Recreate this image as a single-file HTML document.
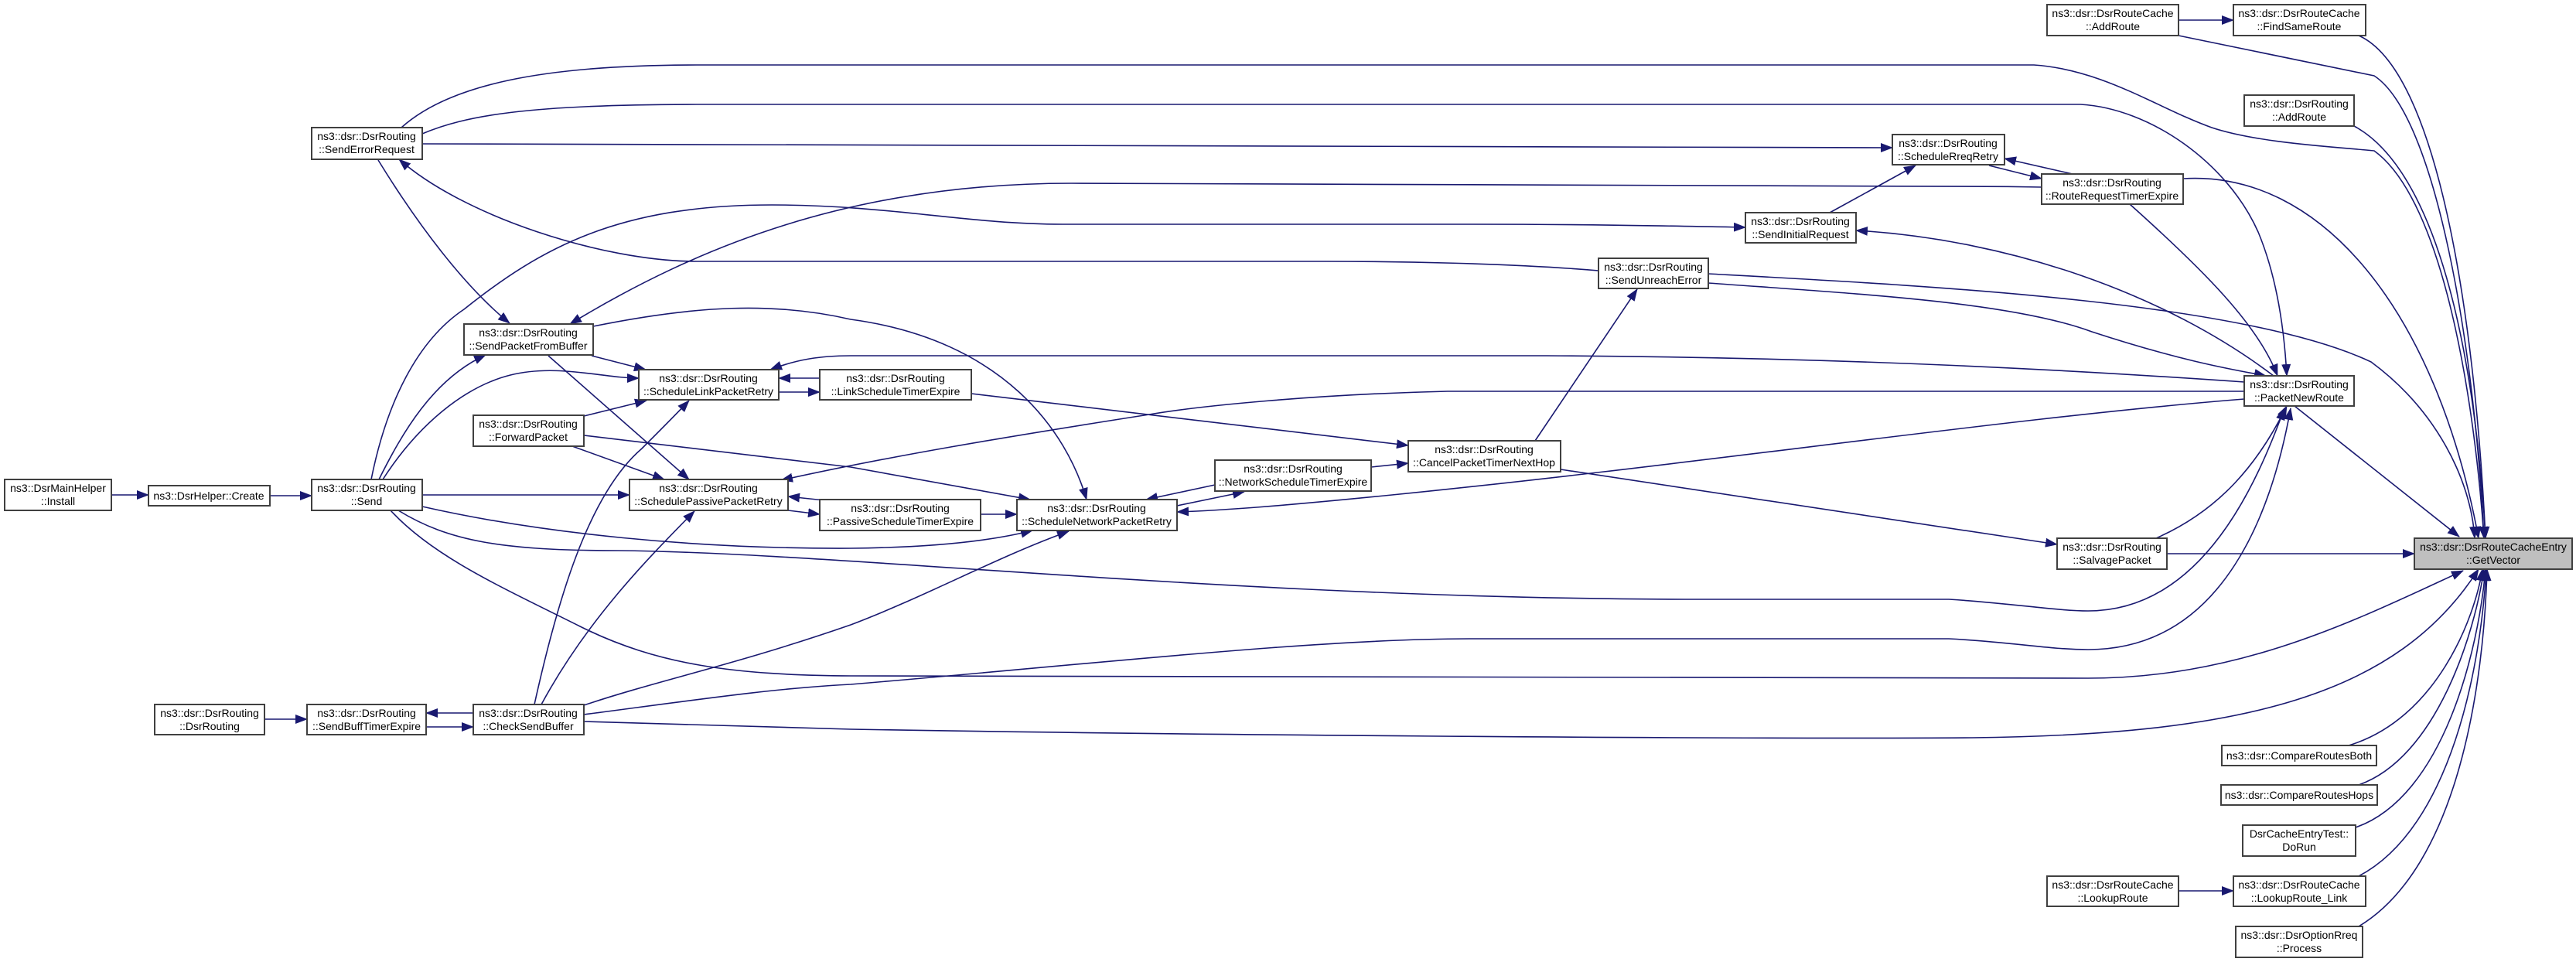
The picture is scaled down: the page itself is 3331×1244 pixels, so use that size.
<!DOCTYPE html>
<html><head><meta charset="utf-8"><style>
html,body{margin:0;padding:0;background:#fff;}
svg{display:block;}
text{font-family:"Liberation Sans",Arial,sans-serif;font-size:14px;fill:#000;}
.e{fill:none;stroke:#191970;stroke-width:1.6;marker-end:url(#a);}
.n{fill:#fff;stroke:#404040;stroke-width:2;}
</style></head><body>
<svg width="3331" height="1244" viewBox="0 0 3331 1244" xmlns="http://www.w3.org/2000/svg">
<defs><marker id="a" markerUnits="userSpaceOnUse" markerWidth="16" markerHeight="12" refX="15" refY="6" orient="auto"><path d="M0,0 L16,6 L0,12 z" fill="#191970"/></marker></defs>
<g>
<path class="e" d="M144,640 L192,640"/>
<path class="e" d="M349,641 L403,641"/>
<path class="e" d="M342,930 L397,930"/>
<path class="e" d="M551,940 L612,940"/>
<path class="e" d="M612,922 L551,922"/>
<path class="e" d="M490,620 C520,560 560,490 628,459"/>
<path class="e" d="M495,620 C540,550 600,500 660,485 C720,470 780,489 826,489"/>
<path class="e" d="M546,640 L814,640"/>
<path class="e" d="M546,655 C700,690 900,710 1100,709 C1200,708 1280,700 1335,686"/>
<path class="e" d="M515,660 C580,700 650,712 800,712 C1100,715 1600,775 2200,775 L2520,775 C2600,780 2660,790 2700,790 C2850,790 2920,620 2954,528"/>
<path class="e" d="M505,660 C560,720 650,760 750,810 C850,860 950,873 1100,874 L2700,877 C2900,877 3050,800 3185,738"/>
<path class="e" d="M519,165 C580,110 700,84 901,84 L2630,84 C2720,90 2790,140 2860,165 C2920,185 3020,190 3070,195 C3160,260 3200,520 3212,696"/>
<path class="e" d="M546,173 C600,150 680,135 901,135 L2690,135 C2780,140 2880,210 2920,300 C2945,360 2954,430 2957,486"/>
<path class="e" d="M546,186 L2447,191"/>
<path class="e" d="M489,207 C540,290 600,370 659,418"/>
<path class="e" d="M2067,350 C1950,340 1800,338 1713,338 L901,338 C780,338 600,280 516,206"/>
<path class="e" d="M480,620 C500,520 540,440 600,400 C700,320 800,265 998,265 C1150,265 1250,290 1374,290 L1900,290 C2050,290 2150,292 2257,294"/>
<path class="e" d="M2640,242 C2400,238 2200,237 1386,237 C1100,237 900,320 737,419"/>
<path class="e" d="M2366,275 L2477,214"/>
<path class="e" d="M2680,225 L2592,205"/>
<path class="e" d="M2572,214 L2640,231"/>
<path class="e" d="M2823,231 C3000,220 3150,400 3205,696"/>
<path class="e" d="M2754,264 C2850,350 2920,420 2945,486"/>
<path class="e" d="M2940,486 C2800,380 2600,310 2400,298"/>
<path class="e" d="M2209,366 C2400,380 2600,390 2705,429 C2830,470 2900,480 2930,486"/>
<path class="e" d="M2209,354 C2500,370 2900,390 3066,468 C3150,530 3195,620 3200,696"/>
<path class="e" d="M1985,570 L2117,374"/>
<path class="e" d="M2902,494 C2700,480 2400,462 2000,460 L1100,460 C1060,460 1030,465 996,478"/>
<path class="e" d="M2902,506 L1872,506 C1700,510 1550,525 1486,536 C1300,565 1150,590 1010,621"/>
<path class="e" d="M2902,516 C2600,540 2200,600 1800,640 C1650,655 1580,660 1522,662"/>
<path class="e" d="M2967,525 L3180,694"/>
<path class="e" d="M2788,696 C2870,660 2920,600 2957,525"/>
<path class="e" d="M2802,716 L3122,716"/>
<path class="e" d="M2018,607 L2660,704"/>
<path class="e" d="M755,924 C900,905 1000,890 1100,885 C1400,860 1700,826 1900,826 L2520,826 C2600,830 2650,840 2700,840 C2880,840 2940,650 2962,528"/>
<path class="e" d="M755,933 L1100,943 C1500,950 2200,956 2550,954 C2900,950 3100,900 3205,736"/>
<path class="e" d="M755,912 C850,880 950,860 1100,808 C1200,770 1290,720 1382,687"/>
<path class="e" d="M691,911 C720,780 760,640 830,580 C855,555 875,535 891,518"/>
<path class="e" d="M700,911 C760,800 840,720 898,661"/>
<path class="e" d="M767,422 C900,395 1000,390 1100,413 C1300,440 1380,560 1405,646"/>
<path class="e" d="M765,460 L835,478"/>
<path class="e" d="M709,460 L891,620"/>
<path class="e" d="M755,538 L836,518"/>
<path class="e" d="M740,577 L859,620"/>
<path class="e" d="M755,563 L1100,604 L1332,646"/>
<path class="e" d="M1060,489 L1007,489"/>
<path class="e" d="M1007,507 L1060,507"/>
<path class="e" d="M1066,647 L1019,642"/>
<path class="e" d="M1019,660 L1060,665"/>
<path class="e" d="M1268,665 L1315,665"/>
<path class="e" d="M1256,509 L1821,576"/>
<path class="e" d="M1522,654 L1609,636"/>
<path class="e" d="M1571,627 L1482,646"/>
<path class="e" d="M1773,604 L1821,599"/>
<path class="e" d="M2817,26 L2888,26"/>
<path class="e" d="M2817,46 L3070,98 C3150,150 3200,450 3212,696"/>
<path class="e" d="M3050,46 C3150,90 3200,400 3214,696"/>
<path class="e" d="M3044,163 C3150,220 3200,450 3214,696"/>
<path class="e" d="M3037,964 C3150,930 3200,800 3210,736"/>
<path class="e" d="M3050,1015 C3150,980 3200,820 3212,736"/>
<path class="e" d="M3046,1070 C3160,1030 3205,840 3214,736"/>
<path class="e" d="M3050,1133 C3170,1070 3208,860 3215,736"/>
<path class="e" d="M3050,1198 C3180,1120 3212,880 3216,736"/>
<path class="e" d="M2817,1152 L2888,1152"/>
</g>
<g text-anchor="middle">
<rect class="n" x="6" y="620" width="138" height="40"/><text x="75" y="636">ns3::DsrMainHelper</text><text x="75" y="653">::Install</text>
<rect class="n" x="192" y="628" width="157" height="26"/><text x="270" y="646">ns3::DsrHelper::Create</text>
<rect class="n" x="403" y="620" width="143" height="40"/><text x="474" y="636">ns3::dsr::DsrRouting</text><text x="474" y="653">::Send</text>
<rect class="n" x="403" y="165" width="143" height="41"/><text x="474" y="181">ns3::dsr::DsrRouting</text><text x="474" y="198">::SendErrorRequest</text>
<rect class="n" x="600" y="419" width="167" height="40"/><text x="683" y="435">ns3::dsr::DsrRouting</text><text x="683" y="452">::SendPacketFromBuffer</text>
<rect class="n" x="826" y="478" width="181" height="39"/><text x="916" y="494">ns3::dsr::DsrRouting</text><text x="916" y="511">::ScheduleLinkPacketRetry</text>
<rect class="n" x="612" y="537" width="143" height="40"/><text x="683" y="553">ns3::dsr::DsrRouting</text><text x="683" y="570">::ForwardPacket</text>
<rect class="n" x="814" y="620" width="205" height="40"/><text x="916" y="636">ns3::dsr::DsrRouting</text><text x="916" y="653">::SchedulePassivePacketRetry</text>
<rect class="n" x="200" y="911" width="142" height="39"/><text x="271" y="927">ns3::dsr::DsrRouting</text><text x="271" y="944">::DsrRouting</text>
<rect class="n" x="397" y="911" width="154" height="39"/><text x="474" y="927">ns3::dsr::DsrRouting</text><text x="474" y="944">::SendBuffTimerExpire</text>
<rect class="n" x="612" y="911" width="143" height="39"/><text x="683" y="927">ns3::dsr::DsrRouting</text><text x="683" y="944">::CheckSendBuffer</text>
<rect class="n" x="1060" y="478" width="196" height="39"/><text x="1158" y="494">ns3::dsr::DsrRouting</text><text x="1158" y="511">::LinkScheduleTimerExpire</text>
<rect class="n" x="1060" y="646" width="208" height="40"/><text x="1164" y="662">ns3::dsr::DsrRouting</text><text x="1164" y="679">::PassiveScheduleTimerExpire</text>
<rect class="n" x="1315" y="646" width="207" height="40"/><text x="1418" y="662">ns3::dsr::DsrRouting</text><text x="1418" y="679">::ScheduleNetworkPacketRetry</text>
<rect class="n" x="1571" y="595" width="202" height="40"/><text x="1672" y="611">ns3::dsr::DsrRouting</text><text x="1672" y="628">::NetworkScheduleTimerExpire</text>
<rect class="n" x="1821" y="570" width="197" height="40"/><text x="1919" y="586">ns3::dsr::DsrRouting</text><text x="1919" y="603">::CancelPacketTimerNextHop</text>
<rect class="n" x="2067" y="334" width="142" height="39"/><text x="2138" y="350">ns3::dsr::DsrRouting</text><text x="2138" y="367">::SendUnreachError</text>
<rect class="n" x="2257" y="275" width="143" height="39"/><text x="2328" y="291">ns3::dsr::DsrRouting</text><text x="2328" y="308">::SendInitialRequest</text>
<rect class="n" x="2447" y="174" width="145" height="39"/><text x="2519" y="190">ns3::dsr::DsrRouting</text><text x="2519" y="207">::ScheduleRreqRetry</text>
<rect class="n" x="2640" y="225" width="183" height="39"/><text x="2731" y="241">ns3::dsr::DsrRouting</text><text x="2731" y="258">::RouteRequestTimerExpire</text>
<rect class="n" x="2647" y="6" width="170" height="40"/><text x="2732" y="22">ns3::dsr::DsrRouteCache</text><text x="2732" y="39">::AddRoute</text>
<rect class="n" x="2888" y="6" width="171" height="40"/><text x="2973" y="22">ns3::dsr::DsrRouteCache</text><text x="2973" y="39">::FindSameRoute</text>
<rect class="n" x="2902" y="123" width="142" height="40"/><text x="2973" y="139">ns3::dsr::DsrRouting</text><text x="2973" y="156">::AddRoute</text>
<rect class="n" x="2902" y="486" width="142" height="39"/><text x="2973" y="502">ns3::dsr::DsrRouting</text><text x="2973" y="519">::PacketNewRoute</text>
<rect class="n" x="2660" y="696" width="142" height="40"/><text x="2731" y="712">ns3::dsr::DsrRouting</text><text x="2731" y="729">::SalvagePacket</text>
<rect x="3122" y="696" width="204" height="40" fill="#bfbfbf" stroke="#404040" stroke-width="2"/><text x="3224" y="712">ns3::dsr::DsrRouteCacheEntry</text><text x="3224" y="729">::GetVector</text>
<rect class="n" x="2873" y="964" width="200" height="26"/><text x="2973" y="982">ns3::dsr::CompareRoutesBoth</text>
<rect class="n" x="2872" y="1015" width="202" height="26"/><text x="2973" y="1033">ns3::dsr::CompareRoutesHops</text>
<rect class="n" x="2900" y="1067" width="146" height="40"/><text x="2973" y="1083">DsrCacheEntryTest::</text><text x="2973" y="1100">DoRun</text>
<rect class="n" x="2647" y="1133" width="170" height="39"/><text x="2732" y="1149">ns3::dsr::DsrRouteCache</text><text x="2732" y="1166">::LookupRoute</text>
<rect class="n" x="2888" y="1133" width="171" height="39"/><text x="2973" y="1149">ns3::dsr::DsrRouteCache</text><text x="2973" y="1166">::LookupRoute_Link</text>
<rect class="n" x="2891" y="1198" width="164" height="40"/><text x="2973" y="1214">ns3::dsr::DsrOptionRreq</text><text x="2973" y="1231">::Process</text>
</g>
</svg>
</body></html>
